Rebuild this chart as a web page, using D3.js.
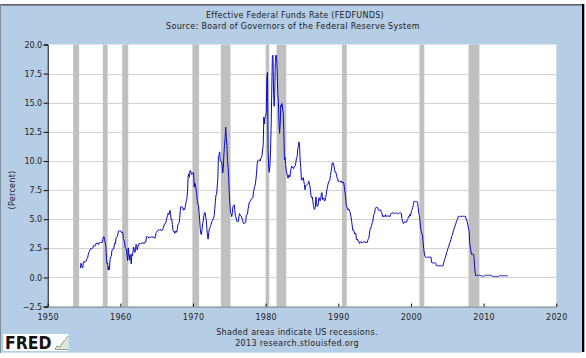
<!DOCTYPE html>
<html><head><meta charset="utf-8">
<script src="https://cdn.jsdelivr.net/npm/d3@7"></script>
<style>
html,body{margin:0;padding:0;background:#fff;}
svg{display:block;}
text{font-family:"DejaVu Sans",Verdana,sans-serif;}
</style></head>
<body>
<svg id="chart" width="586" height="358"></svg>
<script>
// ---------- DATA (monthly effective federal funds rate, %) ----------
const seriesStart = "1954-07";
const rates1950s = [
  0.80,1.22,1.07,0.85,0.83,1.28,
  1.39,1.29,1.35,1.43,1.43,1.64,1.68,1.96,2.18,2.24,2.35,2.48,
  2.45,2.50,2.50,2.62,2.75,2.71,2.75,2.73,2.95,2.96,2.88,2.94,
  2.84,3.00,2.96,3.00,3.00,3.00,2.99,3.24,3.47,3.50,3.28,2.98,
  2.72,1.67,1.20,1.26,0.63,0.93,0.68,1.53,1.76,1.80,2.27,2.42,
  2.48,2.43,2.80,2.96,2.90,3.39,3.47,3.50,3.76,3.98,4.00,3.99];
const rates1960s = [
  3.99,3.97,3.84,3.92,3.85,3.32,3.23,2.98,2.60,2.47,2.44,1.98,
  1.45,2.54,2.02,1.49,1.98,1.73,1.17,2.00,1.88,2.26,2.61,2.33,
  2.15,2.37,2.85,2.78,2.36,2.68,2.71,2.93,2.90,2.90,2.94,2.93,
  2.92,3.00,2.98,2.90,3.00,2.99,3.02,3.49,3.48,3.50,3.48,3.38,
  3.48,3.48,3.43,3.47,3.50,3.50,3.42,3.50,3.45,3.36,3.52,3.85,
  3.90,3.98,4.04,4.09,4.10,4.04,4.09,4.12,4.01,4.08,4.10,4.32,
  4.42,4.60,4.65,4.67,4.90,5.17,5.30,5.53,5.40,5.53,5.76,5.40,
  4.94,5.00,4.53,4.05,3.94,3.98,3.79,3.90,3.99,3.88,4.13,4.51,
  4.61,4.71,5.05,5.76,6.11,6.07,6.03,6.03,5.78,5.91,5.82,6.02,
  6.30,6.61,6.79,7.41,8.67,8.90,8.61,9.19,9.15,9.00,8.85,8.97];
const rates1970s = [
  8.98,8.98,7.76,8.10,7.95,7.61,7.21,6.61,6.29,6.20,5.60,4.90,
  4.14,3.72,3.71,4.16,4.63,4.91,5.31,5.57,5.55,5.20,4.91,4.14,
  3.50,3.29,3.83,4.17,4.27,4.46,4.55,4.80,4.87,5.04,5.06,5.33,
  5.94,6.58,7.09,7.12,7.84,8.49,10.40,10.50,10.78,10.01,10.03,9.95,
  9.65,8.97,9.35,10.51,11.31,11.93,12.92,12.01,11.34,10.06,9.45,8.53,
  7.13,6.24,5.54,5.49,5.22,5.55,6.10,6.14,6.24,5.82,5.22,5.20,
  4.87,4.77,4.84,4.82,5.29,5.48,5.31,5.29,5.25,5.02,4.95,4.65,
  4.61,4.68,4.69,4.73,5.35,5.39,5.42,5.90,6.14,6.47,6.51,6.56,
  6.70,6.78,6.79,6.89,7.36,7.60,7.81,8.04,8.45,8.96,9.76,10.03,
  10.07,10.06,10.09,10.01,10.24,10.29,10.47,10.94,11.43,13.77,13.18,13.78];
const rates1980s = [
  13.82,14.13,17.19,17.61,10.98,9.47,9.03,9.61,10.87,12.81,15.85,18.90,
  19.08,15.93,14.70,15.72,18.52,19.10,19.04,17.82,15.87,15.08,13.31,12.37,
  13.22,14.78,14.68,14.94,14.45,14.15,12.59,10.12,10.31,9.71,9.20,8.95,
  8.68,8.51,8.77,8.80,8.63,8.98,9.37,9.56,9.45,9.48,9.34,9.47,
  9.56,9.59,9.91,10.29,10.32,11.06,11.23,11.64,11.30,9.99,9.43,8.38,
  8.35,8.50,8.58,8.27,7.97,7.53,7.88,7.90,7.92,7.99,8.05,8.27,
  8.14,7.86,7.48,6.99,6.85,6.92,6.56,6.17,5.89,5.85,6.04,6.91,
  6.43,6.10,6.13,6.37,6.85,6.73,6.58,6.73,7.22,7.29,6.69,6.77,
  6.83,6.58,6.58,6.87,7.09,7.51,7.75,8.01,8.19,8.30,8.35,8.76,
  9.12,9.36,9.85,9.84,9.81,9.53,9.24,8.99,9.02,8.84,8.55,8.45];
const rates1990s = [
  8.23,8.24,8.28,8.26,8.18,8.29,8.15,8.13,8.20,8.11,7.81,7.31,
  6.91,6.25,6.12,5.91,5.78,5.90,5.82,5.66,5.45,5.21,4.81,4.43,
  4.03,4.06,3.98,3.73,3.82,3.76,3.25,3.30,3.22,3.10,3.09,2.92,
  3.02,3.03,3.07,2.96,3.00,3.04,3.06,3.03,3.09,2.99,3.02,2.96,
  3.05,3.25,3.34,3.56,4.01,4.25,4.26,4.47,4.73,4.76,5.29,5.45,
  5.53,5.92,5.98,6.05,6.01,6.00,5.85,5.74,5.80,5.76,5.80,5.60,
  5.56,5.22,5.31,5.22,5.24,5.27,5.40,5.22,5.30,5.24,5.31,5.29,
  5.25,5.19,5.39,5.51,5.50,5.56,5.52,5.54,5.54,5.50,5.52,5.50,
  5.56,5.51,5.49,5.45,5.49,5.56,5.54,5.55,5.51,5.07,4.83,4.68,
  4.63,4.76,4.81,4.74,4.74,4.76,4.99,5.07,5.22,5.20,5.42,5.30];
const rates2000s = [
  5.45,5.73,5.85,6.02,6.27,6.53,6.54,6.50,6.52,6.51,6.51,6.40,
  5.98,5.49,5.31,4.80,4.21,3.97,3.77,3.65,3.07,2.49,2.09,1.82,
  1.73,1.74,1.73,1.75,1.75,1.75,1.73,1.74,1.75,1.75,1.34,1.24,
  1.24,1.26,1.25,1.26,1.26,1.22,1.01,1.03,1.01,1.01,1.00,0.98,
  1.00,1.01,1.00,1.00,1.00,1.03,1.26,1.43,1.61,1.76,1.93,2.16,
  2.28,2.50,2.63,2.79,3.00,3.04,3.26,3.50,3.62,3.78,4.00,4.16,
  4.29,4.49,4.59,4.79,4.94,4.99,5.24,5.25,5.25,5.25,5.25,5.24,
  5.25,5.26,5.26,5.25,5.25,5.25,5.26,5.02,4.94,4.76,4.49,4.24,
  3.94,2.98,2.61,2.28,1.98,2.00,2.01,2.00,1.81,0.97,0.39,0.16,
  0.15,0.22,0.18,0.15,0.18,0.21,0.16,0.16,0.15,0.12,0.12,0.12];
const rates2010s = [
  0.11,0.13,0.16,0.20,0.20,0.18,0.18,0.19,0.19,0.19,0.19,0.18,
  0.17,0.16,0.14,0.10,0.09,0.09,0.07,0.10,0.08,0.07,0.08,0.07,
  0.08,0.10,0.13,0.14,0.16,0.16,0.16,0.13,0.14,0.16,0.16,0.16,
  0.14,0.15,0.14,0.15,0.11];

const recessionStarts = ["1953-07","1957-08","1960-04","1969-12","1973-11","1980-01","1981-07","1990-07","2001-03","2007-12"];
const recessionEnds   = ["1954-05","1958-04","1961-02","1970-11","1975-03","1980-07","1982-11","1991-03","2001-11","2009-06"];

const xTickYears = [1950,1960,1970,1980,1990,2000,2010,2020];
const yTickValues = [-2.5,0,2.5,5,7.5,10,12.5,15,17.5,20];

const titleText = "Effective Federal Funds Rate (FEDFUNDS)";
const subtitleText = "Source: Board of Governors of the Federal Reserve System";
const yLabelText = "(Percent)";
const noteLines = ["Shaded areas indicate US recessions.", "2013 research.stlouisfed.org"];

// ---------- BUILD ----------
const parseMonth = d3.timeParse("%Y-%m");
const allRates = [].concat(rates1950s, rates1960s, rates1970s, rates1980s, rates1990s, rates2000s, rates2010s);
const t0 = parseMonth(seriesStart);
const data = allRates.map((v, i) => ({date: d3.timeMonth.offset(t0, i), value: v}));
const recessions = recessionStarts.map((s, i) => ({start: parseMonth(s), end: parseMonth(recessionEnds[i])}));

const svg = d3.select("#chart");
const W = 586, H = 358;
const plot = {left: 47.7, right: 556.3, top: 44.5, bottom: 306.6};

// frame background
svg.append("rect").attr("x", 0).attr("y", 0).attr("width", W).attr("height", H).attr("fill", "#fff");
svg.append("rect").attr("x", 1).attr("y", 5).attr("width", 581).attr("height", 347.7).attr("fill", "#b5cde5");
svg.append("rect").attr("x", 0).attr("y", 4).attr("width", 584).attr("height", 1.6).attr("fill", "#5b636c");
svg.append("rect").attr("x", 582).attr("y", 4).attr("width", 2.3).attr("height", 348).attr("fill", "#000");
svg.append("rect").attr("x", 0).attr("y", 4).attr("width", 1).attr("height", 349).attr("fill", "#7f8c99");

const x = d3.scaleTime()
  .domain([new Date(xTickYears[0], 0, 1), new Date(xTickYears[xTickYears.length - 1], 0, 1)])
  .range([plot.left, plot.right]);
const y = d3.scaleLinear()
  .domain([yTickValues[0], yTickValues[yTickValues.length - 1]])
  .range([plot.bottom, plot.top]);

// plot background
svg.append("rect").attr("x", plot.left).attr("y", plot.top)
  .attr("width", plot.right - plot.left).attr("height", plot.bottom - plot.top).attr("fill", "#fff");

// gridlines
svg.append("g").selectAll("line")
  .data(yTickValues.slice(1, -1)).join("line")
  .attr("x1", plot.left).attr("x2", plot.right)
  .attr("y1", d => Math.round(y(d)) + 0.5).attr("y2", d => Math.round(y(d)) + 0.5)
  .attr("stroke", "#d2d2d2").attr("stroke-width", 1);

// recession bars
svg.append("g").selectAll("rect")
  .data(recessions).join("rect")
  .attr("x", d => x(d.start)).attr("width", d => x(d.end) - x(d.start))
  .attr("y", plot.top).attr("height", plot.bottom - plot.top)
  .attr("fill", "#c0c0c0");

// series line
const line = d3.line().x(d => x(d.date)).y(d => y(d.value));
svg.append("path").datum(data)
  .attr("d", line).attr("fill", "none")
  .attr("stroke", "#0808c8").attr("stroke-width", 1).attr("stroke-linejoin", "round");

// y axis
const yAxis = svg.append("g").attr("transform", `translate(${plot.left},0)`)
  .call(d3.axisLeft(y).tickValues(yTickValues).tickFormat(d3.format(".1f")).tickSize(4).tickPadding(1.5));
yAxis.select(".domain").attr("stroke", "#000");
yAxis.selectAll(".tick line").attr("stroke", "#000");
yAxis.selectAll("text").attr("font-size", 8).attr("fill", "#222").attr("font-family", "DejaVu Sans");

// x axis
const xAxis = svg.append("g").attr("transform", `translate(0,${plot.bottom})`)
  .call(d3.axisBottom(x).tickValues(xTickYears.map(yr => new Date(yr, 0, 1)))
    .tickFormat(d3.timeFormat("%Y")).tickSizeInner(-3).tickSizeOuter(0).tickPadding(7.5));
xAxis.select(".domain").attr("stroke", "#808080");
xAxis.selectAll(".tick line").attr("stroke", "#000");
xAxis.selectAll("text").attr("font-size", 8).attr("fill", "#222").attr("font-family", "DejaVu Sans")
  .attr("letter-spacing", 0.3);

// titles
svg.append("text").attr("x", 295).attr("y", 18.3).attr("text-anchor", "middle")
  .attr("font-size", 8).attr("letter-spacing", 0.3).attr("fill", "#222").text(titleText);
svg.append("text").attr("x", 293).attr("y", 28.6).attr("text-anchor", "middle")
  .attr("font-size", 8).attr("letter-spacing", 0.33).attr("fill", "#222").text(subtitleText);
svg.append("text").attr("transform", "translate(14.5,190) rotate(-90)").attr("text-anchor", "middle")
  .attr("font-size", 8).attr("letter-spacing", 0.3).attr("fill", "#222").text(yLabelText);
svg.selectAll("text.note").data(noteLines).join("text").attr("class", "note")
  .attr("x", 297).attr("y", (d, i) => 335 + i * 10.5).attr("text-anchor", "middle")
  .attr("font-size", 8).attr("letter-spacing", 0.33).attr("fill", "#222").text(d => d);

// FRED logo
const logo = svg.append("g");
logo.append("rect").attr("x", 3.3).attr("y", 334).attr("width", 65).attr("height", 17).attr("fill", "#fff");
logo.append("text").attr("x", 5).attr("y", 349).attr("font-family", "Liberation Sans, Arial, sans-serif")
  .attr("font-weight", "bold").attr("font-size", 17).attr("fill", "#111")
  .attr("textLength", 46.5).attr("lengthAdjust", "spacingAndGlyphs").text("FRED");
logo.append("path").attr("d", "M55,349 L57,346 L60,347 L63,342 L66,339 L68,336 L68,349 Z").attr("fill", "#dfe6d6");
logo.append("path").attr("d", "M55,349 L57,346 L60,347 L63,342 L66,339 L68,336").attr("fill", "none")
  .attr("stroke", "#8aa070").attr("stroke-width", 1);
logo.append("line").attr("x1", 55).attr("x2", 68).attr("y1", 349.5).attr("y2", 349.5).attr("stroke", "#9a9a9a");
</script>
</body></html>
